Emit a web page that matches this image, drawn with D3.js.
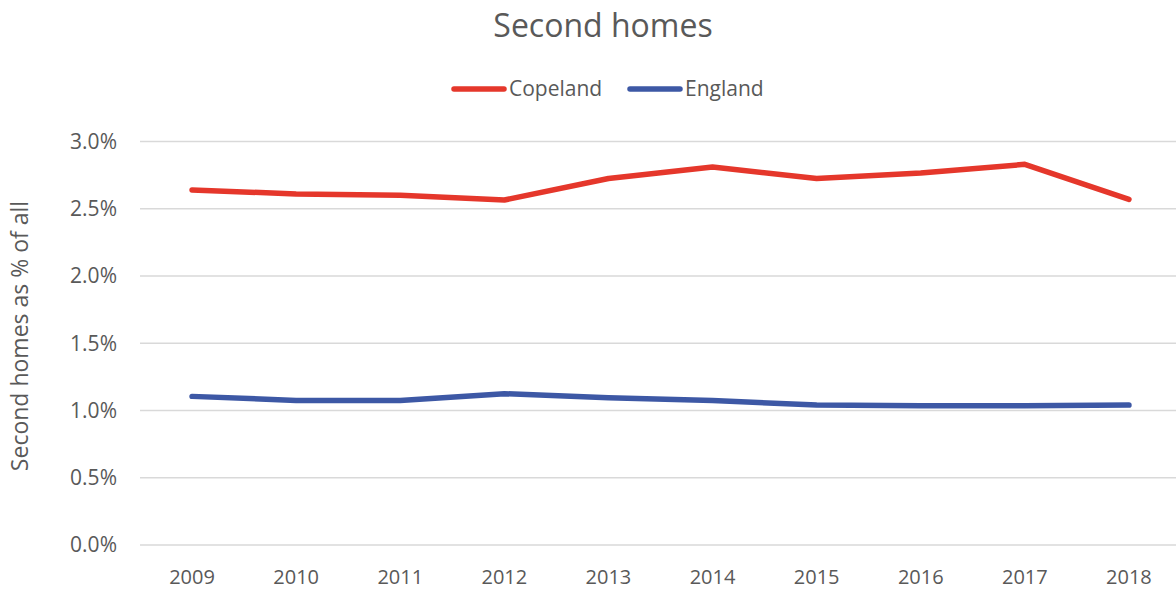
<!DOCTYPE html>
<html lang="en">
<head>
<meta charset="UTF-8">
<title>Second homes</title>
<script src="https://d3js.org/d3.v7.min.js"></script>
<style>
    body { margin: 0; background: #fff; }
    text { font-family: "Open Sans", sans-serif; fill: #595959; }
</style>
</head>
<body>
<svg id="chart" width="1176" height="590"></svg>
<script>
    // data
    let years = ["2009","2010","2011","2012","2013","2014","2015","2016","2017","2018"]
    let copeland = [2.64, 2.61, 2.60, 2.565, 2.725, 2.81, 2.725, 2.765, 2.83, 2.57]
    let england = [1.105, 1.075, 1.075, 1.125, 1.095, 1.075, 1.04, 1.035, 1.035, 1.04]
    let yTicks = [0, 0.5, 1.0, 1.5, 2.0, 2.5, 3.0]

    let series = [
        {name: "Copeland", values: copeland, color: "#e5372b"},
        {name: "England", values: england, color: "#3d58a5"}
    ]

    let svg = d3.select("#chart")
    let plotLeft = 140, plotRight = 1181, plotTop = 141.5, plotBottom = 545

    let x = d3.scaleBand().domain(years).range([plotLeft, plotRight])
    let y = d3.scaleLinear().domain([0, 3]).range([plotBottom, plotTop])

    // gridlines
    svg.append("g")
        .selectAll("line")
        .data(yTicks)
        .join("line")
        .attr("x1", plotLeft)
        .attr("x2", plotRight)
        .attr("y1", d => y(d))
        .attr("y2", d => y(d))
        .attr("stroke", "#d9d9d9")
        .attr("stroke-width", 1.5)

    // y tick labels
    svg.append("g")
        .selectAll("text")
        .data(yTicks)
        .join("text")
        .attr("x", 117)
        .attr("y", d => y(d))
        .attr("dy", "0.35em")
        .attr("text-anchor", "end")
        .attr("font-size", 21)
        .text(d => d.toFixed(1) + "%")

    // x tick labels
    svg.append("g")
        .selectAll("text")
        .data(years)
        .join("text")
        .attr("x", d => x(d) + x.bandwidth() / 2)
        .attr("y", 584)
        .attr("text-anchor", "middle")
        .attr("font-size", 20)
        .text(d => d)

    // lines
    let line = d3.line()
        .x((d, i) => x(years[i]) + x.bandwidth() / 2)
        .y(d => y(d))

    svg.append("g")
        .selectAll("path")
        .data(series)
        .join("path")
        .attr("d", d => line(d.values))
        .attr("fill", "none")
        .attr("stroke", d => d.color)
        .attr("stroke-width", 5.5)
        .attr("stroke-linecap", "round")
        .attr("stroke-linejoin", "round")

    // title
    svg.append("text")
        .attr("x", 603)
        .attr("y", 37)
        .attr("text-anchor", "middle")
        .attr("font-size", 32)
        .text("Second homes")

    // legend
    let legendX = [452, 628]
    let legend = svg.append("g")
        .selectAll("g")
        .data(series)
        .join("g")
        .attr("transform", (d, i) => `translate(${legendX[i]},89)`)
    legend.append("line")
        .attr("x1", 2)
        .attr("x2", 52)
        .attr("stroke", d => d.color)
        .attr("stroke-width", 5.5)
        .attr("stroke-linecap", "round")
    legend.append("text")
        .attr("x", 57)
        .attr("dy", "0.35em")
        .attr("font-size", 21)
        .text(d => d.name)

    // y axis title
    svg.append("text")
        .attr("transform", `translate(28,336) rotate(-90)`)
        .attr("text-anchor", "middle")
        .attr("font-size", 23)
        .text("Second homes as % of all")
</script>
</body>
</html>
